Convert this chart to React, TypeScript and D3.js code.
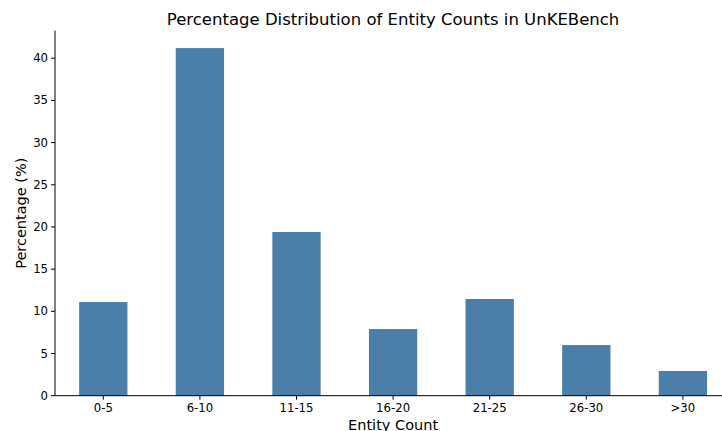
import React from "react";
import * as d3 from "d3";

const categories = ["0-5", "6-10", "11-15", "16-20", "21-25", "26-30", ">30"];
const percentages = [11.1, 41.2, 19.4, 7.9, 11.46, 6.0, 2.93];
const yTicks = [0, 5, 10, 15, 20, 25, 30, 35, 40];

const W = 722;
const H = 431;
const left = 55;
const right = 731.2;
const top = 30.7;
const bottom = 395.7;
const FONT = "DejaVu Sans, sans-serif";
const BAR = "#4b7ea8";

export default function App() {
  const x = d3
    .scaleBand<string>()
    .domain(categories)
    .range([left, right])
    .paddingInner(0.5)
    .paddingOuter(0.25);
  const yMax = d3.max(percentages)! * 1.05;
  const y = d3.scaleLinear().domain([0, yMax]).range([bottom, top]);

  return (
    <svg
      width={W}
      height={H}
      style={{ position: "absolute", left: 0, top: 0, background: "#fff" }}
      fontFamily={FONT}
    >
      <rect x={0} y={0} width={W} height={H} fill="#fff" />
      <text x={(left + right) / 2} y={25} textAnchor="middle" fontSize={16.5} fill="#000">
        Percentage Distribution of Entity Counts in UnKEBench
      </text>
      {categories.map((c, i) => (
        <rect
          key={c}
          x={x(c)!}
          y={y(percentages[i])}
          width={x.bandwidth()}
          height={y(0) - y(percentages[i])}
          fill={BAR}
        />
      ))}
      {/* y axis */}
      <line x1={left} x2={left} y1={top} y2={bottom} stroke="#000" strokeWidth={1} />
      {yTicks.map((t) => (
        <g key={t}>
          <line x1={left - 4} x2={left} y1={y(t)} y2={y(t)} stroke="#000" strokeWidth={1} />
          <text x={left - 7} y={y(t)} dy="0.35em" textAnchor="end" fontSize={11.7} fill="#000">
            {t}
          </text>
        </g>
      ))}
      {/* x axis */}
      <line x1={left} x2={right} y1={bottom} y2={bottom} stroke="#000" strokeWidth={1} />
      {categories.map((c) => {
        const cx = x(c)! + x.bandwidth() / 2;
        return (
          <g key={c}>
            <line x1={cx} x2={cx} y1={bottom} y2={bottom + 4} stroke="#000" strokeWidth={1} />
            <text x={cx} y={bottom + 8} dy="0.71em" textAnchor="middle" fontSize={11.7} fill="#000">
              {c}
            </text>
          </g>
        );
      })}
      <text x={(left + right) / 2} y={429.5} textAnchor="middle" fontSize={14.5} fill="#000">
        Entity Count
      </text>
      <text
        transform={`translate(26, ${(top + bottom) / 2}) rotate(-90)`}
        textAnchor="middle"
        fontSize={14.5}
        fill="#000"
      >
        Percentage (%)
      </text>
    </svg>
  );
}
